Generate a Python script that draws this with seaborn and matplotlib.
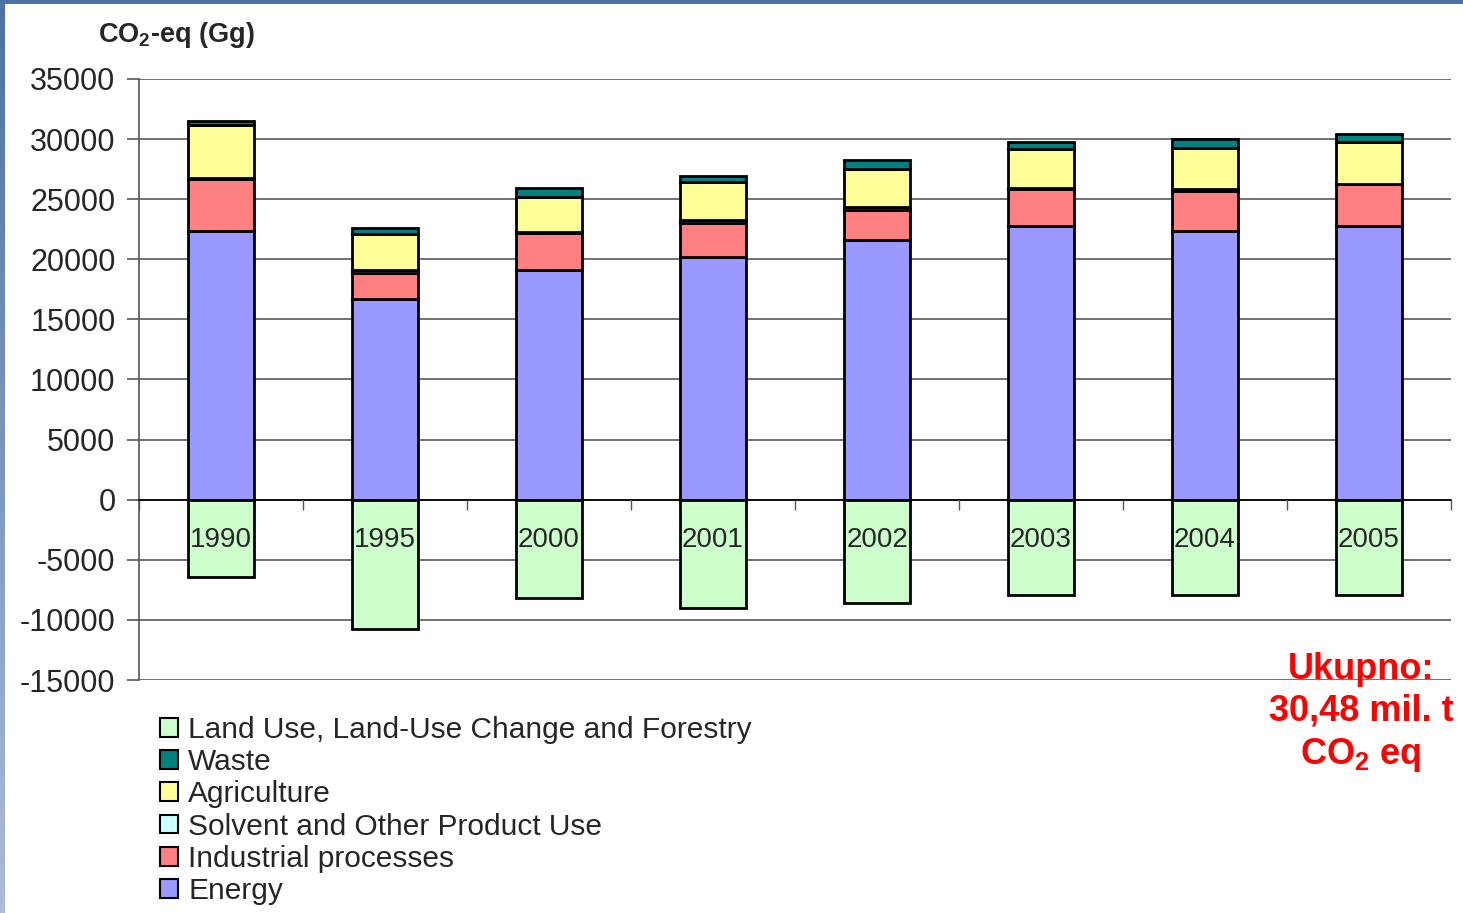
import numpy as np
import matplotlib
matplotlib.use("Agg")
import matplotlib.pyplot as plt
import seaborn as sns
from matplotlib.patches import Patch

years = ["1990", "1995", "2000", "2001", "2002", "2003", "2004", "2005"]
energy = [22360, 16720, 19140, 20200, 21580, 22780, 22390, 22780]
industrial = [4340, 2140, 3060, 2830, 2500, 3080, 3280, 3470]
solvent = [50, 280, 50, 220, 280, 50, 220, 50]
agriculture = [4450, 2960, 2950, 3200, 3140, 3290, 3390, 3420]
waste = [300, 500, 700, 520, 750, 550, 690, 670]
lulucf = [-6390, -10720, -8140, -8970, -8560, -7920, -7920, -7920]

series_names = ["Energy", "Industrial processes", "Solvent and Other Product Use",
                "Agriculture", "Waste", "Land Use, Land-Use Change and Forestry"]
colors = ["#9999FF", "#FF8080", "#CCFFFF", "#FFFF99", "#008080", "#CCFFCC"]

y_ticks = list(range(-15000, 35001, 5000))

sns.set_theme(style="white")
plt.rcParams["font.family"] = ["Liberation Sans", "DejaVu Sans"]
plt.rcParams["axes.unicode_minus"] = False
plt.rcParams["mathtext.fontset"] = "custom"
plt.rcParams["mathtext.rm"] = "Liberation Sans"
plt.rcParams["mathtext.bf"] = "Liberation Sans:bold"
plt.rcParams["mathtext.default"] = "regular"

fig = plt.figure(figsize=(14.63, 9.13), dpi=100)
fig.patch.set_facecolor("white")
ax = fig.add_axes([139/1463, 1-680/913, (1451-139)/1463, (680-79)/913])

stack = [energy, industrial, solvent, agriculture, waste]
bottom = np.zeros(len(years))
for name, vals, col in zip(series_names[:5], stack, colors[:5]):
    sns.barplot(x=years, y=vals, bottom=bottom, color=col, width=0.4,
                edgecolor="black", linewidth=2, saturation=1, ax=ax, zorder=3)
    bottom = bottom + np.array(vals)
sns.barplot(x=years, y=lulucf, color=colors[5], width=0.4,
            edgecolor="black", linewidth=2, saturation=1, ax=ax, zorder=3)

ax.set_xlim(-0.5, len(years) - 0.5)
ax.set_ylim(-15000, 35000)
ax.set_yticks(y_ticks)
ax.set_yticklabels([str(t) for t in y_ticks], fontsize=22)
ax.yaxis.grid(True, color="#5a5a5a", linewidth=1.2, zorder=0)
ax.set_axisbelow(True)
ax.tick_params(axis="y", which="major", direction="out", length=9, width=1.2,
               color="#555555", pad=8, left=True)

ax.spines["bottom"].set_position(("data", 0))
ax.spines["bottom"].set_color("black")
ax.spines["bottom"].set_linewidth(1.2)
ax.spines["bottom"].set_zorder(4)
ax.spines["left"].set_color("#555555")
ax.spines["left"].set_linewidth(1.2)
ax.spines["right"].set_visible(False)
ax.spines["top"].set_visible(False)

ax.set_xticks(range(len(years)))
ax.set_xticklabels(years, fontsize=20)
ax.set_xticks(np.arange(-0.5, len(years), 1.0), minor=True)
ax.tick_params(axis="x", which="major", length=0, pad=20, bottom=True)
ax.tick_params(axis="x", which="minor", direction="out", length=7, width=1,
               color="#555555", bottom=True)
ax.xaxis.set_zorder(5)
ax.set_xlabel("")
ax.set_ylabel("")

# title
fig.text(98/1463, 1-35/913, r"CO$_2$-eq (Gg)", fontsize=19.5, fontweight="bold",
         ha="left", va="center")

# red annotation
fig.text(1361/1463, 1-713/913, "Ukupno:\n30,48 mil. t\nCO$_2$ eq", color="#FF0000",
         fontsize=26, fontweight="bold", ha="center", va="center", linespacing=1.25)

# legend
order = [5, 4, 3, 2, 1, 0]
leg_handles = [Patch(facecolor=colors[i], edgecolor="black", linewidth=1.5) for i in order]
leg_labels = [series_names[i] for i in order]
fig.legend(leg_handles, leg_labels, loc="upper left",
           bbox_to_anchor=(160/1463, 1-716/913), frameon=False, fontsize=21.5,
           handlelength=0.6, handleheight=0.6, handletextpad=0.35,
           labelspacing=0.14, borderpad=0, borderaxespad=0)

# frame strips
grad = np.linspace(0, 1, 256).reshape(-1, 1)
lax = fig.add_axes([0, 0, 5/1463, 1])
lax.imshow(grad, aspect="auto", cmap=matplotlib.colors.LinearSegmentedColormap.from_list(
    "g", ["#4d70a6", "#aebcd6"]), extent=[0, 1, 0, 1])
lax.axis("off")
tax = fig.add_axes([0, 1-4/913, 1, 4/913])
tax.set_facecolor("#4d70a6")
tax.set_xticks([]); tax.set_yticks([])
for s in tax.spines.values():
    s.set_visible(False)

fig.savefig("out.png", dpi=100)
